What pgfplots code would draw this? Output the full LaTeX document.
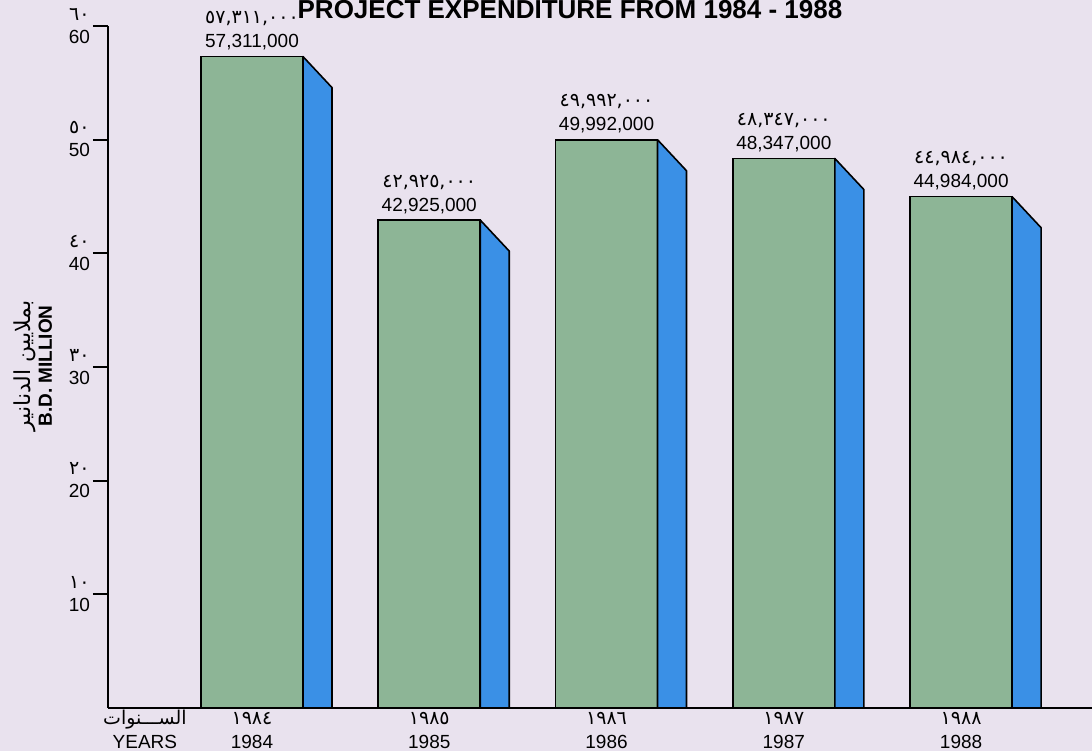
\documentclass[border=0pt]{standalone}
\usepackage{pgfplots}
\pgfplotsset{compat=1.18}
\usepackage{pgfplotstable}
\usepackage{fontspec}
\setmainfont{Liberation Sans}
\newfontfamily\ardigfont{DejaVu Sans}
\newfontfamily\arabicfont[Script=Arabic]{DejaVu Sans}
\TeXXeTstate=1
\definecolor{bg}{RGB}{233,226,238}
\definecolor{barg}{RGB}{141,181,150}
\definecolor{bars}{RGB}{58,144,230}

% two centred lines: #2 raised by #1 above #3
\NewDocumentCommand\stack{mmm}{%
  \setbox0=\hbox{#3}%
  \setbox2=\hbox{#2}%
  \dimen0=\wd0 \ifdim\wd2>\dimen0 \dimen0=\wd2 \fi
  \hbox to \dimen0{\hss\hbox to 0pt{\hss\raise#1\box2\hss}\hbox to 0pt{\hss\box0\hss}\hss}}

\NewDocumentCommand\ad{m}{{\ardigfont\fontsize{9.5}{11}\selectfont #1}}

\pgfplotstableread{
x y en ar
0 57.311 57,311,000 ٥٧,٣١١,٠٠٠
1 42.925 42,925,000 ٤٢,٩٢٥,٠٠٠
2 49.992 49,992,000 ٤٩,٩٩٢,٠٠٠
3 48.347 48,347,000 ٤٨,٣٤٧,٠٠٠
4 44.984 44,984,000 ٤٤,٩٨٤,٠٠٠
}\data

\begin{document}
\begin{tikzpicture}
\fill[bg] (-54pt,-21.5pt) rectangle (492pt,354pt);
\useasboundingbox (-54pt,-21.5pt) rectangle (492pt,354pt);
\begin{axis}[
  at={(0,0)}, anchor=south west,
  scale only axis, width=492pt, height=341pt,
  xmin=-0.8123, xmax=4.7385, ymin=0, ymax=60,
  axis lines=left, axis line style={-, line width=1pt, black},
  clip=false,
  tick align=outside,
  major tick length=7.5pt,
  xtick={0,1,2,3,4},
  xticklabels={{\stack{12pt}{\ad{١٩٨٤}}{1984}},{\stack{12pt}{\ad{١٩٨٥}}{1985}},{\stack{12pt}{\ad{١٩٨٦}}{1986}},{\stack{12pt}{\ad{١٩٨٧}}{1987}},{\stack{12pt}{\ad{١٩٨٨}}{1988}}},
  extra x ticks={-0.604},
  extra x tick labels={{\stack{12pt}{{\arabicfont\fontsize{9.5}{10}\selectfont\beginR الســـنوات\endR}}{YEARS}}},
  x tick style={draw=none},
  extra x tick style={tick style={draw=none}},
  xticklabel style={anchor=base, yshift=-12.5pt},
  ytick={10,20,30,40,50,60},
  yticklabels={{\stack{11.5pt}{\ad{١٠}}{10}},{\stack{11.5pt}{\ad{٢٠}}{20}},{\stack{11.5pt}{\ad{٣٠}}{30}},{\stack{11.5pt}{\ad{٤٠}}{40}},{\stack{11.5pt}{\ad{٥٠}}{50}},{\stack{11.5pt}{\ad{٦٠}}{60}}},
  y tick style={line width=1pt, black},
  yticklabel style={anchor=base east, yshift=-8.5pt, xshift=2pt},
  tick label style={font=\fontsize{9.5}{11}\selectfont},
]
\addplot[ybar, bar width=0.5754, bar shift=0pt, fill=barg, draw=black, line width=0.8pt] table[x=x,y=y]{\data};
\pgfplotsforeachungrouped \r in {0,1,2,3,4}{%
  \pgfplotstablegetelem{\r}{x}\of\data
  \pgfmathsetmacro\xa{\pgfplotsretval+0.2877}%
  \pgfmathsetmacro\xb{\pgfplotsretval+0.2877+0.1636}%
  \pgfplotstablegetelem{\r}{y}\of\data
  \let\yy\pgfplotsretval
  \pgfmathsetmacro\yb{\yy-2.73}%
  \edef\tmp{\noexpand\addplot[fill=bars, draw=black, line width=0.8pt, line join=round] coordinates {(\xa,0) (\xa,\yy) (\xb,\yb) (\xb,0)} -- cycle;}%
  \tmp
}
\addplot[draw=none, mark=none, nodes near coords, point meta=explicit symbolic,
  every node near coord/.append style={anchor=base, yshift=4.5pt, font=\fontsize{9.5}{11}\selectfont, text=black}]
  table[x=x,y=y,meta=en]{\data};
\addplot[draw=none, mark=none, nodes near coords, point meta=explicit symbolic,
  every node near coord/.append style={anchor=base, yshift=16.5pt, font=\ardigfont\fontsize{9.5}{11}\selectfont, text=black}]
  table[x=x,y=y,meta=ar]{\data};
\end{axis}
\node[anchor=base, font=\bfseries\fontsize{13}{15}\selectfont] at (231pt,344.5pt) {PROJECT EXPENDITURE FROM 1984 - 1988};
\node[rotate=90, align=center, font=\fontsize{9.5}{10.5}\selectfont] at (-37.5pt,171pt)
  {{\arabicfont\fontsize{11}{11}\selectfont\beginR بملايين الدنانير\endR}\\\textbf{B.D. MILLION}};
\end{tikzpicture}
\end{document}
